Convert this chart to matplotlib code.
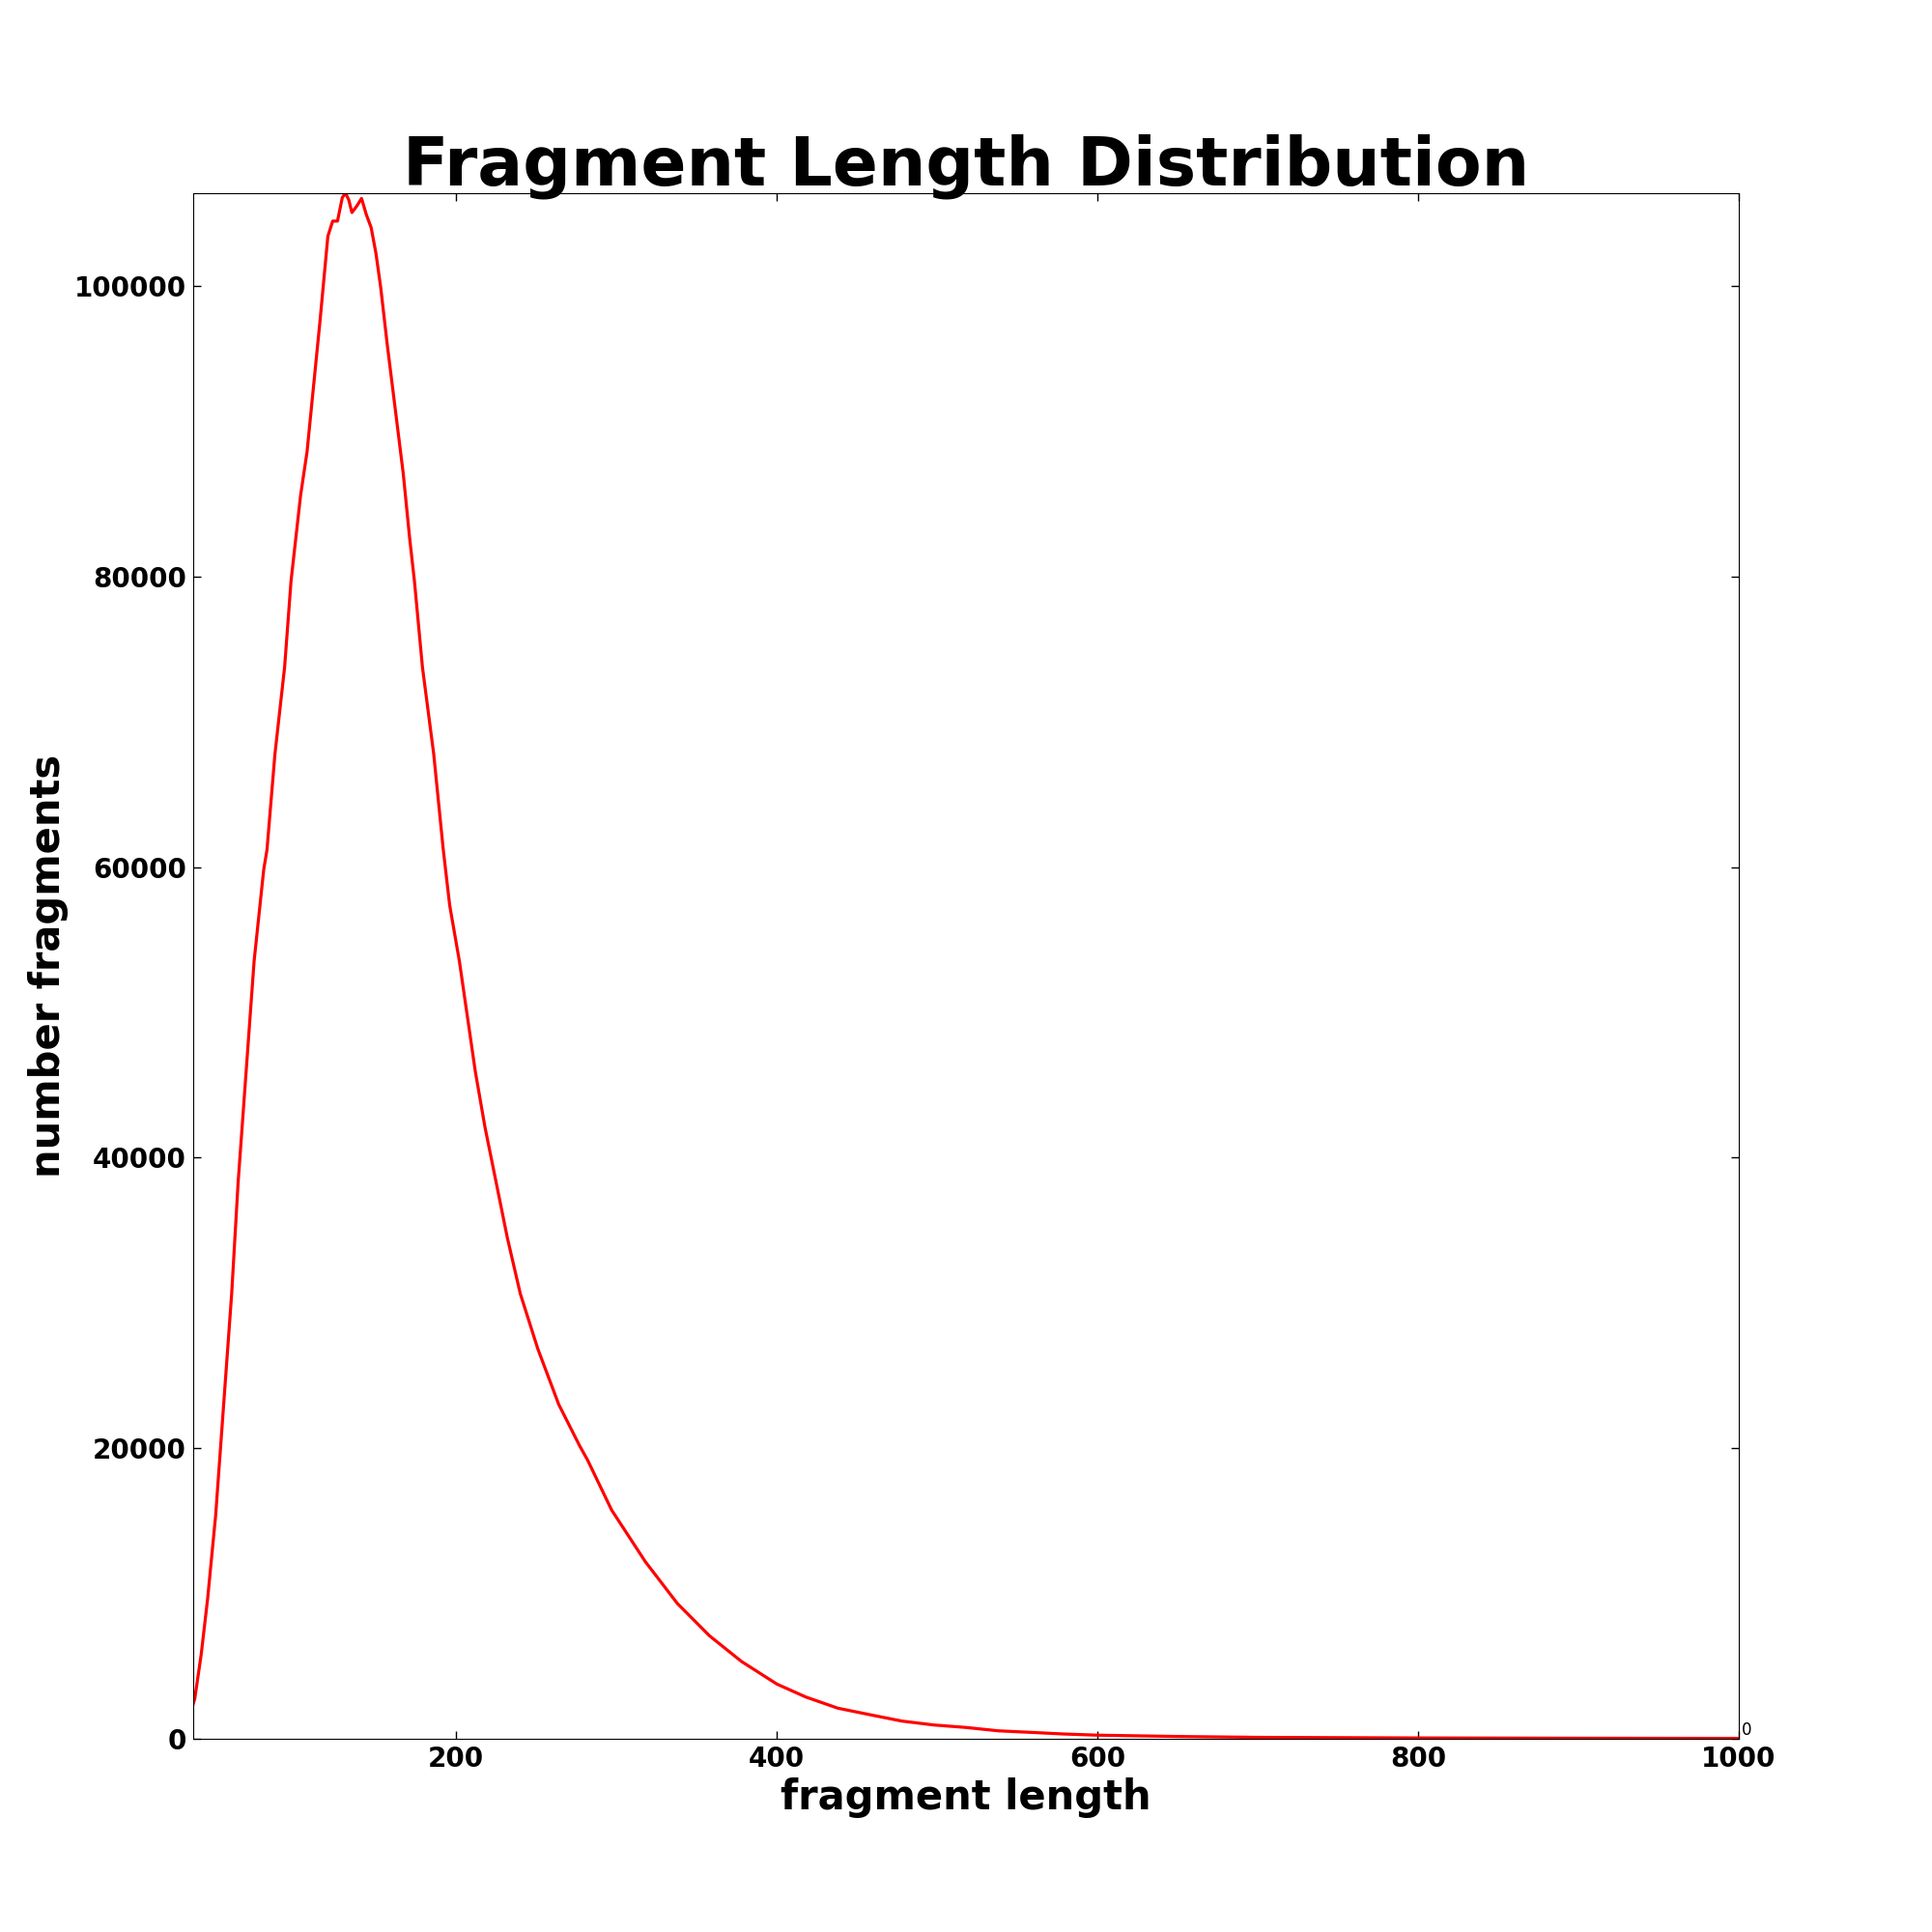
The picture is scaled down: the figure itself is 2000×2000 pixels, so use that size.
import matplotlib
matplotlib.use('Agg')
import matplotlib.pyplot as plt

# fragment length (bp) and counts
frag_len = [36, 37, 41, 45, 50, 55, 60, 64, 69, 74, 80, 82, 87, 93, 97,
            103, 107, 111, 115, 120, 123, 126, 129, 131, 133, 135, 138,
            141, 144, 147, 150, 153, 157, 162, 167, 171, 174, 179, 186,
            192, 196, 202, 207, 212, 218, 225, 232, 240, 251, 264, 277,
            282, 297, 318, 338, 358, 378, 400, 418, 438, 458, 478, 498,
            518, 538, 559, 579, 600, 650, 700, 800, 900, 1000]
counts = [2400, 2770, 5820, 9640, 15370, 23010, 30640, 38270, 45900, 53540,
          59840, 61170, 67790, 73740, 79670, 85600, 88570, 93030, 97480,
          103420, 104460, 104460, 106080, 106380, 105930, 105050, 105490,
          106020, 104900, 104010, 102230, 99850, 95990, 91540, 87090, 82640,
          79670, 73740, 67790, 61170, 57350, 53540, 49720, 45900, 42090,
          38270, 34450, 30640, 26820, 23010, 20170, 19180, 15740, 12190,
          9310, 7090, 5320, 3770, 2880, 2110, 1660, 1220, 950, 780, 550,
          440, 330, 250, 160, 100, 60, 40, 30]

fig = plt.figure(figsize=(20, 20), dpi=100)
ax = fig.add_axes([0.1, 0.1, 0.8, 0.8])
ax.plot(frag_len, counts, color='red', linewidth=2.3)
ax.set_xlim(min(frag_len), 1000)
ax.set_ylim(0, max(counts))
ax.set_xticks([200, 400, 600, 800, 1000])
ax.set_yticks([0, 20000, 40000, 60000, 80000, 100000])
ax.tick_params(direction='in', top=True, right=True, length=6, width=1,
               labelsize=20, pad=5)
for lab in ax.get_xticklabels() + ax.get_yticklabels():
    lab.set_fontweight('bold')
ax.set_title('Fragment Length Distribution', fontsize=50, fontweight='bold')
ax.set_xlabel('fragment length', fontsize=30, fontweight='bold')
ax.set_ylabel('number fragments', fontsize=30, fontweight='bold')
ax.text(1.002, 0.0, '0', transform=ax.transAxes, fontsize=12,
        ha='left', va='bottom')
fig.savefig('out.png', dpi=100, facecolor='white')
